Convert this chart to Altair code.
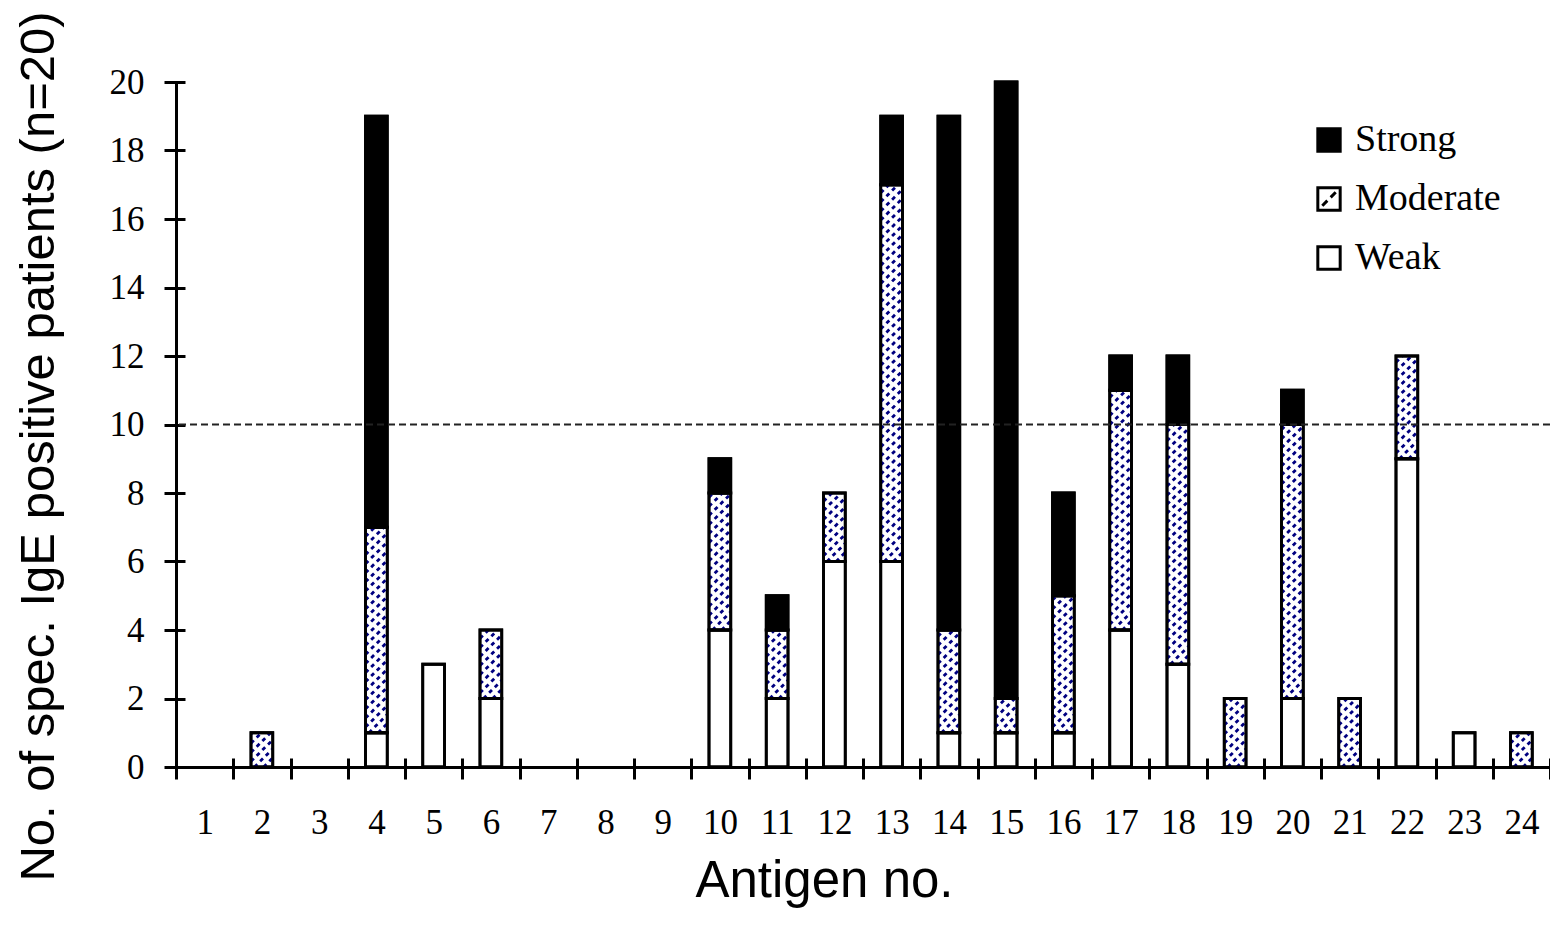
import altair as alt
import pandas as pd

# ---- data ----
antigens = list(range(1, 25))
weak     = [0, 0, 0, 1, 3, 2, 0, 0, 0, 4, 2, 6, 6, 1, 1, 1, 4, 3, 0, 2, 0, 9, 1, 0]
moderate = [0, 1, 0, 6, 0, 2, 0, 0, 0, 4, 2, 2, 11, 3, 1, 4, 7, 7, 2, 8, 2, 3, 0, 1]
strong   = [0, 0, 0, 12, 0, 0, 0, 0, 0, 1, 1, 0, 2, 15, 18, 3, 1, 2, 0, 1, 0, 0, 0, 0]
levels = ["Strong", "Moderate", "Weak"]
threshold = [10]
y_ticks = list(range(0, 21, 2))

# ---- styling constants ----
HALF_W = 0.19        # half bar width (fraction of a category step)
HATCH_STEP = 0.265   # vertical spacing of hatch lines (value units)
HATCH_RISE = 0.63    # rise of a hatch line across a bar (value units)
MOD_PATH = "M-1,-1L1,-1L1,1L-1,1Z M-0.6,0.6L-0.15,0.15 M0.15,-0.15L0.6,-0.6"

seg_rows, hatch_rows = [], []
for n, w, m, s in zip(antigens, weak, moderate, strong):
    base = 0
    for lvl, v in (("Weak", w), ("Moderate", m), ("Strong", s)):
        if v > 0:
            xl, xr = n - HALF_W, n + HALF_W
            seg_rows.append(dict(n=n, level=lvl, x0=xl, x1=xr, y0=base, y1=base + v))
            if lvl == "Moderate":
                top = base + v
                ys = base - HATCH_RISE
                while ys < top:
                    t0 = max(0.0, (base - ys) / HATCH_RISE)
                    t1 = min(1.0, (top - ys) / HATCH_RISE)
                    if t1 > t0:
                        hatch_rows.append(dict(
                            hx0=xl + t0 * (xr - xl), hy0=ys + HATCH_RISE * t0,
                            hx1=xl + t1 * (xr - xl), hy1=ys + HATCH_RISE * t1))
                    ys += HATCH_STEP
            base += v

segs = pd.DataFrame(seg_rows)
hatch_df = pd.DataFrame(hatch_rows)
thr_df = pd.DataFrame({"t": threshold})
legend_df = pd.DataFrame({"level": levels})
x_tick_pos = [n - 0.5 for n in antigens] + [antigens[-1] + 0.5]

xscale = alt.Scale(domain=[antigens[0] - 0.5, antigens[-1] + 0.5], nice=False, zero=False)
yscale = alt.Scale(domain=[0, 20], nice=False)
# bar fill scale uses a different domain order so its (hidden) legend is not merged
fill_scale = alt.Scale(domain=levels[::-1], range=["white", "white", "black"])
color_scale = alt.Scale(domain=levels, range=["black", "white", "white"])
stroke_scale = alt.Scale(domain=levels, range=["black", "black", "black"])
shape_scale = alt.Scale(domain=levels, range=["square", MOD_PATH, "square"])

SERIF = "Liberation Serif"
SANS = "Liberation Sans"

x_main_axis = alt.Axis(values=antigens, ticks=False, tickSize=0, labelPadding=38,
                       labelFont=SERIF, labelFontSize=35, labelColor="black", labelAngle=0,
                       domainWidth=3, domainColor="black", grid=False, format="d",
                       title="Antigen no.", titleFont=SANS, titleFontSize=51,
                       titleFontWeight="normal", titleColor="black",
                       titleX=648, titleY=129, titleBaseline="alphabetic", titleAlign="center")
y_main_axis = alt.Axis(values=y_ticks, ticks=False, tickSize=0, labelPadding=32,
                       labelFont=SERIF, labelFontSize=35, labelColor="black",
                       domainWidth=3, domainColor="black", grid=False, format="d",
                       title="No. of spec. IgE positive patients (n=20)", titleFont=SANS,
                       titleFontSize=49, titleFontWeight="normal", titleColor="black",
                       titleX=-123, titleY=364, titleBaseline="alphabetic", titleAlign="center")
x_tick_axis = alt.Axis(orient="bottom", values=x_tick_pos, labels=False, domain=False,
                       tickSize=21, offset=-9, tickWidth=3, tickColor="black", grid=False, title="")
y_tick_axis = alt.Axis(orient="left", values=y_ticks, labels=False, domain=False,
                       tickSize=21, offset=-9, tickWidth=3, tickColor="black", grid=False, title="")

bars = alt.Chart(segs).mark_rect(stroke="black", strokeWidth=2.8).encode(
    x=alt.X("x0:Q", scale=xscale, axis=x_main_axis),
    x2="x1:Q",
    y=alt.Y("y0:Q", scale=yscale, axis=y_main_axis),
    y2="y1:Q",
    fill=alt.Fill("level:N", scale=fill_scale, legend=None),
)

hatch = alt.Chart(hatch_df).mark_rule(color="#000080", strokeWidth=2.8, strokeDash=[4, 4],
                                      strokeCap="butt").encode(
    x=alt.X("hx0:Q", scale=xscale, axis=x_tick_axis),
    x2="hx1:Q",
    y=alt.Y("hy0:Q", scale=yscale, axis=y_tick_axis),
    y2="hy1:Q",
)

outline = alt.Chart(segs).mark_rect(filled=False, stroke="black", strokeWidth=2.8).encode(
    x=alt.X("x0:Q", scale=xscale, axis=None),
    x2="x1:Q",
    y=alt.Y("y0:Q", scale=yscale, axis=None),
    y2="y1:Q",
)

thr = alt.Chart(thr_df).mark_rule(color="#222222", strokeWidth=1.8, strokeDash=[7, 4]).encode(
    y=alt.Y("t:Q", scale=yscale, axis=None),
)

legend_def = alt.Legend(title=None, orient="none", legendX=1134, legendY=39,
                        labelFont=SERIF, labelFontSize=38, labelColor="black",
                        symbolSize=500, symbolStrokeWidth=3,
                        symbolOpacity=1, rowPadding=21, labelOffset=7, padding=0)

legend_pts = alt.Chart(legend_df).mark_point(
    filled=True, size=500, strokeWidth=3).encode(
    color=alt.Color("level:N", scale=color_scale, legend=legend_def),
    stroke=alt.Stroke("level:N", scale=stroke_scale, legend=legend_def),
    shape=alt.Shape("level:N", scale=shape_scale, legend=legend_def),
    strokeWidth=alt.value(3),
    opacity=alt.value(0),
)

chart = alt.layer(bars, hatch, outline, thr, legend_pts).resolve_axis(
    x="independent", y="independent"
).properties(
    width=1374, height=685,
    padding={"left": 168, "top": 74, "right": 0, "bottom": 146},
    autosize=alt.AutoSizeParams(type="none"),
    background="white",
).configure_view(strokeWidth=0)

chart.save("out.html", embed_options={"renderer": "svg", "actions": False})
